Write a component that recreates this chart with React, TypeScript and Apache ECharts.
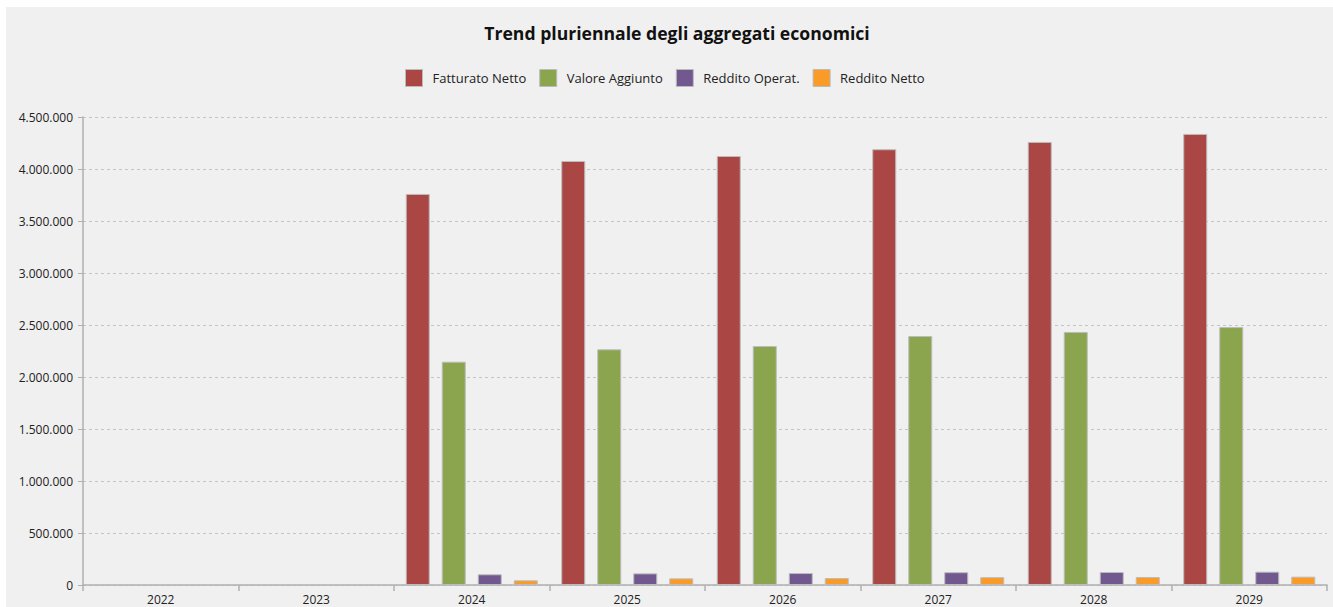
import React, { useEffect, useRef } from "react";
import * as echarts from "echarts";

const categories = ["2022", "2023", "2024", "2025", "2026", "2027", "2028", "2029"];
const fatturatoNetto = [null, null, 3760000, 4077000, 4125000, 4190000, 4260000, 4337000];
const valoreAggiunto = [null, null, 2147000, 2266000, 2298000, 2394000, 2433000, 2480000];
const redditoOperat = [null, null, 103000, 112000, 115000, 123000, 125000, 128000];
const redditoNetto = [null, null, 45000, 64000, 67000, 75000, 77000, 80000];
const seriesNames = ["Fatturato Netto", "Valore Aggiunto", "Reddito Operat.", "Reddito Netto"];
const seriesColors = ["#AA4644", "#8AA54E", "#71588F", "#F99B26"];

const fmt = (v: number) => String(Math.round(v)).replace(/\B(?=(\d{3})+(?!\d))/g, ".");

export default function App() {
  const ref = useRef<HTMLDivElement>(null);
  useEffect(() => {
    if (!ref.current) return;
    const chart = echarts.init(ref.current, undefined, { renderer: "svg" });
    const data = [fatturatoNetto, valoreAggiunto, redditoOperat, redditoNetto];
    const font = "Open Sans, Noto Sans, sans-serif";
    chart.setOption({
      animation: false,
      backgroundColor: "#f0f0f0",
      textStyle: { fontFamily: font },
      title: {
        text: "Trend pluriennale degli aggregati economici",
        left: 666,
        textAlign: "center",
        top: 12,
        textStyle: { fontSize: 17.6, fontWeight: "bold", color: "#111", fontFamily: font },
      },
      legend: {
        top: 57,
        left: 394,
        itemWidth: 17,
        itemHeight: 17,
        itemGap: 13,
        icon: "rect",
        textStyle: { fontSize: 13, color: "#222", fontFamily: font, padding: [0, 0, 0, 5] },
        data: seriesNames.map((n, i) => ({
          name: n,
          itemStyle: { color: seriesColors[i], borderColor: "#bbbbbb", borderWidth: 1 },
        })),
      },
      grid: { left: 77, right: 6, top: 110, bottom: 22, containLabel: false },
      xAxis: {
        type: "category",
        data: categories,
        axisLine: { lineStyle: { color: "#b0b0b0", width: 1.5 } },
        axisTick: { show: true, alignWithLabel: false, length: 6, lineStyle: { color: "#b0b0b0", width: 1.5 } },
        axisLabel: { color: "#222", fontSize: 12, margin: 8, fontFamily: font },
      },
      yAxis: {
        type: "value",
        min: 0,
        max: 4500000,
        interval: 500000,
        axisLine: { show: true, lineStyle: { color: "#b0b0b0", width: 1.5 } },
        axisTick: { show: true, length: 5, lineStyle: { color: "#b0b0b0" } },
        axisLabel: { color: "#222", fontSize: 12, margin: 10, formatter: (v: number) => fmt(v), fontFamily: font },
        splitLine: { show: true, lineStyle: { color: "#c4c4c4", type: [3, 3], width: 1 } },
      },
      series: seriesNames.map((n, i) => ({
        name: n,
        type: "bar",
        data: data[i],
        barWidth: 24,
        barGap: "50%",
        itemStyle: { color: seriesColors[i], borderColor: "#bcbcbc", borderWidth: 1 },
      })),
    });
    return () => chart.dispose();
  }, []);
  return (
    <div
      ref={ref}
      style={{ position: "fixed", left: 6, top: 7, width: 1327, height: 600 }}
    />
  );
}
